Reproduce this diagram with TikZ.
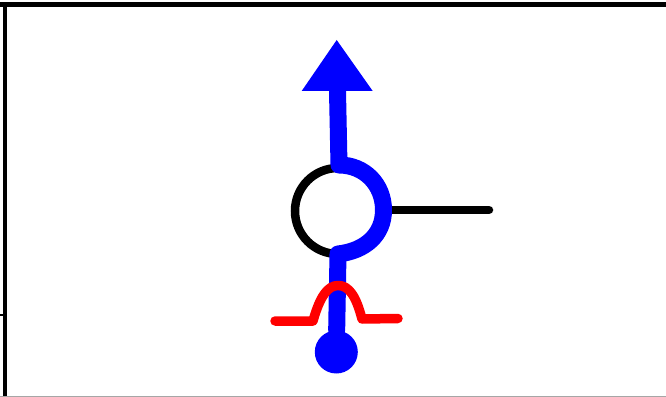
\documentclass[tikz,border=0pt]{standalone}
\usetikzlibrary{calc}
\tikzset{
    frameline/.style={black,line width=0.125cm},
    ringline/.style={black,line width=0.255cm,line cap=round},
    pathline/.style={blue,line width=0.51cm,line cap=round,line join=round},
    bumpline/.style={red,line width=0.285cm,line cap=round,line join=round},
    startdot/.style={circle,fill=blue,inner sep=0pt,minimum size=1.29cm}
}
\begin{document}
\begin{tikzpicture}[x=0.03cm,y=-0.03cm]
        \useasboundingbox (0,0) rectangle (666,397);
        % cornice
            \draw[frameline] (0,4.5)-- (666,4.5);
            \draw[frameline] (5,4.5)-- (5,397);
            \draw[gray!70,line width=0.04cm] (0,396.5)-- (666,396.5);
            \draw[black,line width=0.05cm] (0,315)-- (5,315);
        % punti
            \coordinate (ringcenter) at (338,211);
            \coordinate (ringtop) at (339,165);
            \coordinate (ringright) at (383.5,210);
            \coordinate (ringbottom) at (338,254);
            \coordinate (shafttop) at (337.5,91);
            \coordinate (stubend) at (489,210);
            \coordinate (apex) at (336.7,40);
            \coordinate (baseleft) at (301.7,91);
            \coordinate (baseright) at (372.7,91);
            \node[startdot] (start) at (336.3,352) {};
        % anello
            \draw[ringline] (ringcenter) circle (43);
            \draw[ringline] (ringright)-- (stubend);
        % percorso
            \draw[pathline] (start)-- (ringbottom)
                .. controls (365,251) and (383.5,235) .. (ringright)
                .. controls (383.5,185) and (365,165) .. (ringtop)
                -- (shafttop);
            \fill[blue] (apex)-- (baseright)-- (baseleft)-- cycle;
        % gobba
            \draw[bumpline] (275,321)-- (313,321)
                .. controls (320,296) and (328,285.5) .. (338,285.5)
                .. controls (349,285.5) and (356,296) .. (362,319)
                -- (398,318.5);
        \end{tikzpicture}
\end{document}
